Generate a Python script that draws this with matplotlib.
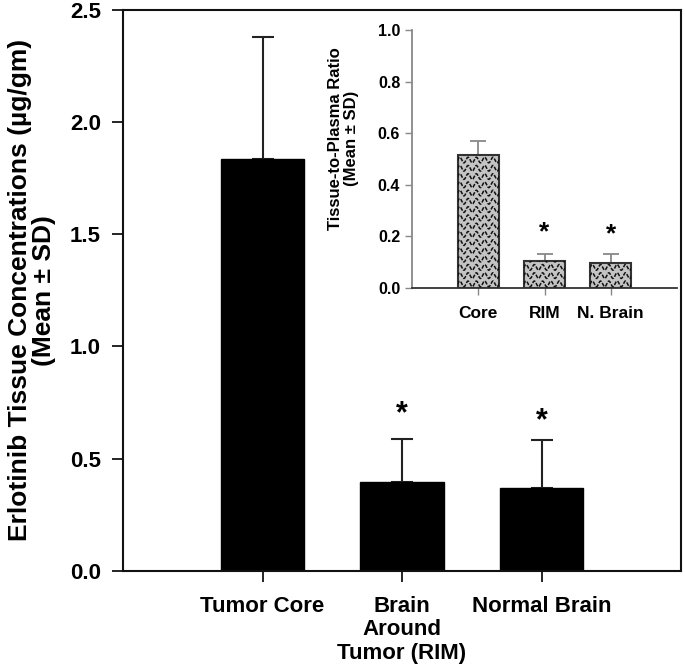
import numpy as np
import matplotlib
matplotlib.use("Agg")
import matplotlib.pyplot as plt

plt.rcParams['font.family'] = ['Liberation Sans', 'DejaVu Sans']
plt.rcParams['font.weight'] = 'bold'

# main data
main_labels = ["Tumor Core", "Brain\nAround\nTumor (RIM)", "Normal Brain"]
main_means = [1.834, 0.396, 0.370]
main_sd = [0.544, 0.192, 0.213]
main_star = [None, 0.70, 0.665]

# inset data
inset_labels = ["Core", "RIM", "N. Brain"]
inset_means = [0.515, 0.105, 0.097]
inset_sd = [0.055, 0.025, 0.033]
inset_star = [None, 0.215, 0.207]

fig = plt.figure(figsize=(6.85, 6.65), dpi=100)
W, H = 685, 665
ax = fig.add_axes([123 / W, 1 - 571 / H, (681 - 123) / W, (571 - 9.5) / H])

x = np.arange(1, len(main_means) + 1)
ax.bar(x, main_means, width=0.6, color='black', edgecolor='black', zorder=2)
ax.errorbar(x, main_means, yerr=[np.zeros(len(main_sd)), main_sd], fmt='none',
            ecolor='#222222', elinewidth=1.5, capsize=8, capthick=1.5, zorder=1)
for xi, s in zip(x, main_star):
    if s is not None:
        ax.text(xi, s, '*', ha='center', va='center', fontsize=22, fontweight='bold')
ax.set_xlim(0, 4)
ax.set_ylim(0, 2.5)
ax.set_xticks(x)
ax.set_xticklabels(main_labels, fontsize=16, fontweight='bold', linespacing=1.15, va='top')
ax.set_yticks([0, 0.5, 1.0, 1.5, 2.0, 2.5])
ax.set_yticklabels(['0.0', '0.5', '1.0', '1.5', '2.0', '2.5'], fontsize=16, fontweight='bold')
ax.tick_params(axis='both', direction='out', length=8, width=1.2, pad=8)
ax.tick_params(axis='x', pad=10)
for sp in ax.spines.values():
    sp.set_linewidth(1.5)
    sp.set_color('#111111')
ax.set_ylabel("Erlotinib Tissue Concentrations (\u00b5g/gm)\n(Mean \u00b1 SD)", fontsize=19,
              fontweight='bold', labelpad=10, linespacing=1.0)

# inset
ax2 = fig.add_axes([412 / W, 1 - 288 / H, (677 - 412) / W, (288 - 30) / H])
xi2 = np.arange(1, len(inset_means) + 1)
bars = ax2.bar(xi2, inset_means, width=0.62, color='#c4c4c4', edgecolor='#333333',
               linewidth=1.5, zorder=2)
ax2.errorbar(xi2, inset_means, yerr=[np.zeros(len(inset_sd)), inset_sd], fmt='none',
             ecolor='#888888', elinewidth=1.3, capsize=6, capthick=1.3, zorder=1)
# wavy hatch texture clipped to each bar
period = 0.125
amp = 0.011
row = 0.032
for b in bars:
    x0, w, h = b.get_x(), b.get_width(), b.get_height()
    xs = np.linspace(x0 - 0.1, x0 + w + 0.1, 200)
    for yb in np.arange(row * 0.5, h + row, row):
        ys = yb + amp * np.sin(2 * np.pi * (xs - x0) / period)
        ln, = ax2.plot(xs, ys, color='#111111', lw=1.1, ls=(0, (2.5, 1)), zorder=3)
        ln.set_clip_path(b)
for xx, s in zip(xi2, inset_star):
    if s is not None:
        ax2.text(xx, s, '*', ha='center', va='center', fontsize=19, fontweight='bold')
ax2.set_xlim(0, 4)
ax2.set_ylim(0, 1.0)
ax2.set_xticks(xi2)
ax2.set_xticklabels(inset_labels, fontsize=12.5, fontweight='bold')
ax2.set_yticks([0, 0.2, 0.4, 0.6, 0.8, 1.0])
ax2.set_yticklabels(['0.0', '0.2', '0.4', '0.6', '0.8', '1.0'], fontsize=11.5, fontweight='bold')
ax2.tick_params(axis='both', direction='out', length=5, width=1.0, color='#888888')
ax2.tick_params(axis='x', pad=8)
ax2.spines['top'].set_visible(False)
ax2.spines['right'].set_visible(False)
ax2.spines['left'].set_color('#888888')
ax2.spines['left'].set_linewidth(1.3)
ax2.spines['bottom'].set_color('#333333')
ax2.spines['bottom'].set_linewidth(1.3)
ax2.patch.set_alpha(0)
ax2.set_ylabel("Tissue-to-Plasma Ratio\n(Mean \u00b1 SD)", fontsize=12, fontweight='bold',
               linespacing=1.1)
ax2.yaxis.set_label_coords(-0.2, 0.58)

fig.savefig("out.png", dpi=100)
